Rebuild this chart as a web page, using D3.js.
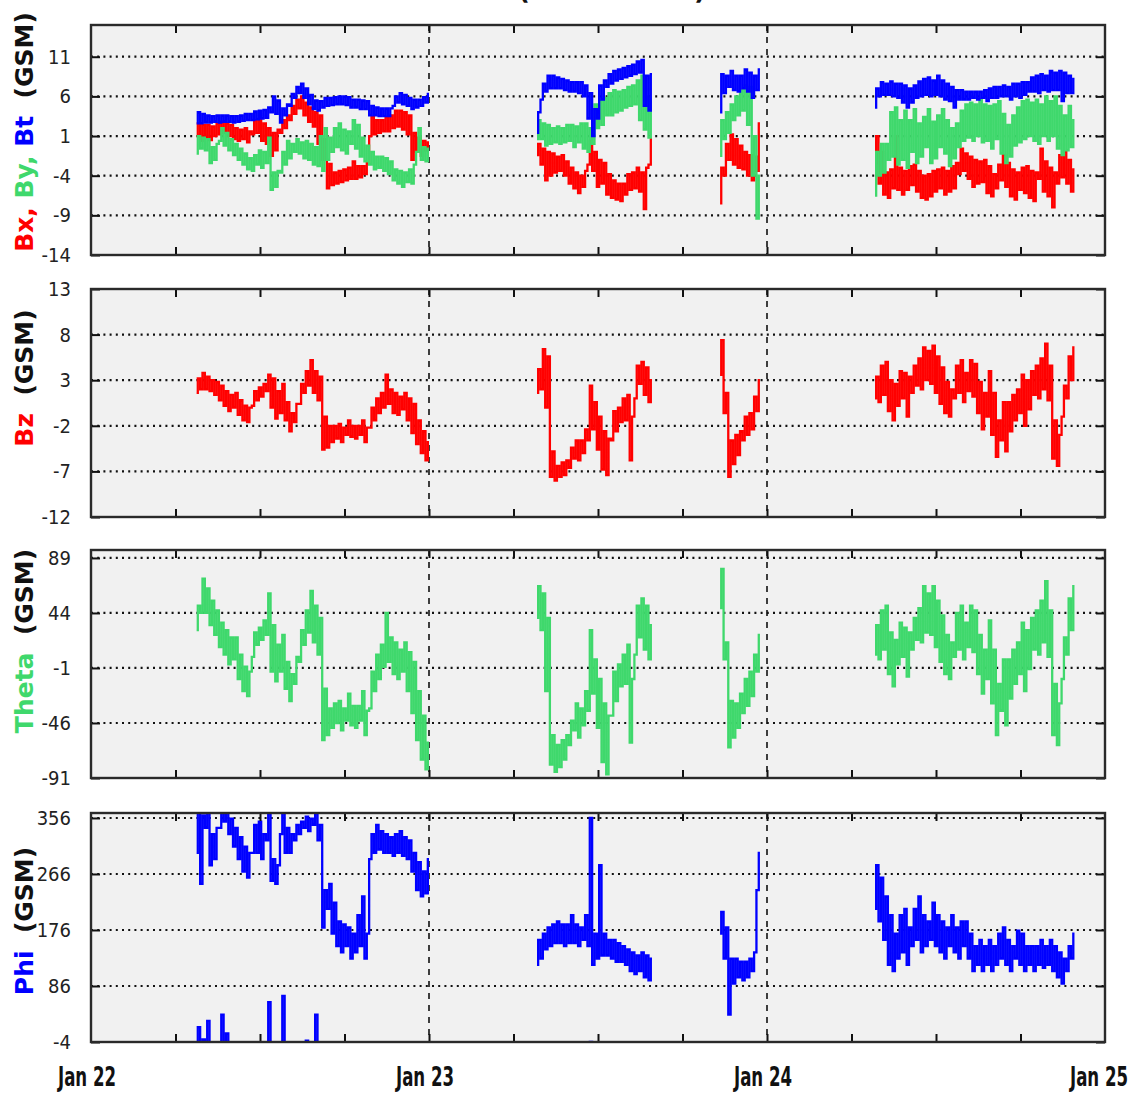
<!DOCTYPE html>
<html><head><meta charset="utf-8">
<script src="https://cdn.jsdelivr.net/npm/d3@7"></script>
<style>
html,body{margin:0;padding:0;background:#fff;}
svg{display:block;}
</style></head><body>
<svg id="chart" width="1132" height="1095"></svg>
<script>
// Hours since Jan 22 00:00 UT; the plot spans three days.
const dayLabels = ["Jan 22", "Jan 23", "Jan 24", "Jan 25"];
const dayHours = [0, 24, 48, 72];
const minorHours = [6, 12, 18, 24, 30, 36, 42, 48, 54, 60, 66];
// Start time of each continuous data stretch, 20-minute bins.
const segmentStarts = [7.5, 31.667, 44.667, 55.667];
const binHours = 1 / 3;

const bTicks = [-14, -9, -4, 1, 6, 11];
const bzTicks = [-12, -7, -2, 3, 8, 13];
const thetaTicks = [-91, -46, -1, 44, 89];
const phiTicks = [-4, 86, 176, 266, 356];

// Each bin: low, high of the 1-minute values inside it (nT or degrees).
const btSegments = [
 [2.6,4.0, 2.6,3.8, 2.7,3.6, 2.7,3.5, 2.8,3.6, 2.7,3.6, 2.8,3.6, 2.8,3.5, 2.7,3.5, 2.8,3.6,
  2.9,3.8, 3.0,3.8, 3.0,4.1, 3.1,4.2, 3.2,4.3, 3.3,4.6, 4.0,6.0, 3.8,5.5, 2.7,4.5, 3.6,5.0,
  4.8,6.3, 5.8,7.2, 6.4,7.6, 5.8,7.0, 5.0,6.2, 4.4,5.5, 4.2,5.4, 4.6,5.8, 4.8,5.8, 4.9,5.9,
  5.0,6.0, 5.0,6.0, 4.9,5.9, 4.6,5.6, 4.6,5.6, 4.4,5.5, 4.4,5.4, 3.6,4.8, 3.6,4.6, 3.5,4.5,
  3.5,4.5, 3.5,4.5, 4.8,6.0, 5.2,6.4, 5.0,6.2, 4.8,5.8, 4.4,5.6, 4.6,5.6, 4.8,5.9, 5.2,6.3],
 [1.4,4.0, 5.6,7.6, 6.6,8.6, 7.0,8.6, 7.0,8.4, 7.0,8.2, 6.8,8.0, 6.6,7.8, 6.6,7.8, 6.4,7.8,
  6.0,7.4, 3.2,6.4, 1.0,4.4, 3.2,7.4, 5.6,8.0, 7.2,8.8, 7.6,9.2, 8.0,9.4, 8.2,9.6, 8.4,9.8,
  8.6,10.0, 8.8,10.4, 9.0,10.6, 4.8,8.6, 4.2,8.8],
 [4.0,8.8, 6.4,8.6, 7.2,9.2, 6.8,8.6, 6.6,8.6, 7.0,9.4, 6.6,9.0, 5.8,8.6, 6.8,9.4],
 [4.6,7.0, 6.0,7.8, 6.2,7.6, 6.2,7.9, 6.0,7.6, 5.8,7.6, 5.2,7.4, 4.6,7.0, 5.2,7.4, 5.8,7.9,
  6.0,8.2, 6.2,8.4, 6.0,8.0, 6.2,8.6, 6.0,8.0, 5.6,7.6, 5.4,7.2, 4.6,6.8, 5.6,6.8, 5.6,6.6,
  5.6,6.6, 5.8,6.6, 5.6,6.6, 5.8,6.8, 5.4,7.0, 5.8,7.2, 5.8,7.2, 6.0,7.4, 6.0,7.2, 5.6,7.6,
  6.0,7.6, 5.8,7.8, 6.2,7.8, 6.6,8.4, 6.6,8.6, 6.4,8.8, 6.8,8.6, 6.6,9.2, 6.8,9.0, 6.8,9.2,
  5.4,9.0, 6.4,8.6, 6.4,8.2]
];

const bxSegments = [
 [1.0,2.6, 0.4,2.4, 0.8,2.4, 0.5,2.2, 1.0,2.6, 1.2,2.8, 1.4,2.6, 1.0,2.4, 0.6,2.0, 0.4,1.8,
  0.6,2.0, 0.2,1.6, 1.2,3.0, 1.4,3.2, 0.4,2.6, 0.0,2.0, -1.5,1.4, -0.8,1.8, 1.4,3.0, 2.0,3.6,
  3.0,4.8, 3.8,5.6, 4.5,6.0, 3.6,5.2, 2.8,4.6, 2.2,4.0, 0.0,3.6, -2.0,0.6, -5.6,-2.5, -5.2,-3.6,
  -5.0,-3.4, -4.8,-3.2, -4.6,-3.0, -4.4,-2.2, -4.4,-2.8, -4.2,-2.8, -3.8,-2.4, 1.0,3.4, 1.2,3.0, 1.4,3.0,
  1.6,3.4, 1.6,3.6, 2.0,4.2, 2.2,4.2, 1.8,4.0, 1.2,3.6, -2.0,1.4, -1.0,0.8, -1.5,0.4, -0.8,0.2],
 [-1.4,0.0, -2.6,-0.6, -4.6,-1.0, -4.0,-1.2, -3.6,-1.6, -3.4,-1.4, -4.0,-2.2, -5.0,-3.0, -5.6,-3.6, -6.2,-4.0,
  -5.4,-3.4, -2.6,0.4, -3.4,-1.0, -5.4,-2.0, -5.0,-2.4, -6.4,-3.8, -6.8,-4.6, -7.0,-5.0, -7.2,-5.0, -6.4,-3.8,
  -5.8,-3.6, -5.6,-3.0, -6.0,-3.6, -8.2,-3.0, -2.6,0.6],
 [-7.5,-3.0, -4.0,0.0, -2.0,1.2, -2.6,0.6, -3.0,-0.2, -3.2,-1.0, -4.0,-1.4, -4.6,-1.6, -3.4,2.6],
 [-2.4,1.0, -5.0,-1.0, -6.4,-3.6, -6.8,-3.2, -5.6,1.0, -5.8,-3.0, -6.4,-3.4, -5.8,-2.8, -5.2,-2.6, -6.0,-3.4,
  -6.8,-4.0, -7.0,-3.8, -6.6,-3.4, -6.0,-3.2, -5.6,-3.0, -6.4,-3.4, -6.0,-2.8, -5.6,-2.4, -3.8,-0.6, -3.4,-1.2,
  -4.4,-1.6, -5.4,-2.0, -5.0,-2.2, -4.8,-2.0, -6.2,-2.8, -6.6,-3.8, -5.6,-2.6, -4.6,-1.4, -5.4,-2.4, -6.6,-3.2,
  -7.0,-3.6, -5.8,-3.0, -6.2,-2.8, -6.8,-3.4, -7.2,-3.6, -4.4,-0.6, -6.0,-2.2, -6.6,-3.0, -8.0,-3.6, -5.0,-1.4,
  -4.2,-1.0, -5.0,-2.0, -6.0,-3.2]
];

const bySegments = [
 [-1.2,1.0, -0.6,0.8, -0.8,0.6, -2.4,-0.4, -2.0,0.0, 0.4,2.0, -0.2,1.4, -0.8,0.6, -1.4,0.0, -2.0,-0.6,
  -2.6,-1.2, -3.2,-1.8, -3.4,-1.4, -2.6,-0.8, -3.0,-1.0, -2.4,0.8, -5.8,-3.6, -5.4,-3.4, -3.6,-1.0, -2.6,0.4,
  -1.8,0.0, -1.0,0.6, -1.2,0.2, -1.8,0.4, -2.0,0.0, -2.6,-0.4, -2.8,1.0, -3.4,2.0, -2.0,0.8, -1.0,2.0,
  -0.4,2.6, -0.8,1.8, -1.2,1.6, 0.0,3.0, -0.6,2.4, -1.6,0.8, -2.2,-0.2, -2.6,-1.0, -3.2,-1.6, -3.0,-1.6,
  -3.4,-1.8, -3.8,-2.2, -4.6,-3.2, -5.0,-3.4, -5.4,-3.6, -4.8,-3.2, -5.0,-2.6, -1.0,2.0, -2.0,-0.4, -2.2,-0.6],
 [0.6,3.0, 0.6,2.6, -0.2,2.4, 0.0,2.0, 0.2,2.2, 0.0,2.0, 0.2,2.4, 0.4,2.4, -0.4,2.2, 0.2,2.6,
  -0.6,2.6, -1.0,2.0, 0.0,5.0, 2.0,5.4, 2.4,5.8, 3.6,6.4, 3.6,6.8, 4.0,6.6, 4.2,6.8, 4.6,7.2,
  4.8,7.4, 5.0,8.0, 3.0,8.6, 1.8,6.0, 0.8,5.6],
 [-1.5,3.0, 0.6,4.0, 1.4,5.0, 3.0,6.0, 3.6,6.8, 4.2,7.4, 2.4,7.2, -4.0,1.0, -9.4,-4.0],
 [-6.5,-1.0, -4.0,0.0, -3.6,0.0, -2.0,4.0, -1.6,4.6, -2.6,3.0, -2.0,4.2, -3.0,3.0, -1.0,4.4, -2.4,2.6,
  -1.6,3.4, -0.4,4.4, -2.4,2.8, -1.8,3.6, -0.4,4.4, -1.2,3.0, -2.8,2.0, -1.8,2.6, -0.4,4.2, 0.4,5.0,
  0.8,5.2, 0.4,5.0, 1.0,5.6, 0.2,5.0, 0.4,4.8, -0.6,5.0, 0.6,5.4, -1.2,3.8, -2.4,2.4, -1.6,3.6,
  -0.2,4.6, 0.2,5.4, 0.6,5.6, 1.0,5.2, 0.4,5.6, 0.0,5.0, 1.0,6.0, 0.4,5.4, 1.0,6.0, -0.6,4.8,
  -1.4,3.6, -0.8,4.8, -0.4,3.0]
];

const bzSegments = [
 [1.6,3.2, 2.0,3.8, 2.0,3.4, 1.8,3.0, 1.4,2.8, 0.8,2.4, 0.2,1.8, -0.4,1.4, 0.0,1.6, -0.8,0.8,
  -1.4,0.2, -1.6,0.0, 0.2,1.8, 0.8,2.2, 1.2,2.6, 1.8,3.6, 0.0,3.2, -1.2,1.8, -0.6,2.6, -1.4,0.6,
  -2.6,-0.6, -1.6,0.4, 0.4,2.6, 1.6,4.0, 2.4,5.2, 1.6,4.0, 0.8,3.4, -4.6,-1.0, -4.4,-2.0, -3.8,-2.0,
  -3.4,-1.8, -3.8,-2.2, -3.0,-1.4, -3.2,-2.0, -3.4,-2.0, -3.0,-1.4, -3.8,-2.2, -2.2,0.0, -1.4,1.0, -0.6,1.6,
  0.0,3.6, 0.4,2.0, -0.6,1.6, -0.8,1.2, -0.2,1.6, -1.4,1.0, -2.8,0.4, -4.0,-1.4, -5.0,-2.6, -5.8,-3.8],
 [1.6,4.2, 2.0,6.4, 0.0,5.6, -7.6,-4.8, -8.0,-6.4, -7.6,-6.0, -7.4,-5.8, -6.6,-4.4, -5.6,-3.6, -5.8,-3.6,
  -5.0,-2.4, -3.6,2.4, -2.4,0.6, -4.6,-1.0, -6.8,-2.6, -7.4,-3.4, -3.6,-0.4, -2.6,0.0, -1.6,1.0, -1.4,1.4,
  -5.8,-1.0, 1.0,4.6, 2.6,5.0, 1.4,4.4, 0.6,3.0],
 [3.6,7.4, -0.6,1.6, -7.6,-3.6, -6.2,-3.0, -5.2,-2.6, -3.6,-1.0, -3.0,-0.6, -2.4,1.2, -0.4,3.0],
 [1.0,3.4, 0.6,4.6, 1.4,5.0, -0.4,3.0, -1.4,2.6, 0.2,4.0, 1.0,3.8, -1.0,3.4, 1.6,4.6, 2.4,5.4,
  2.0,6.6, 3.0,6.2, 2.6,6.8, 1.6,5.6, 0.4,4.4, -0.6,2.8, -1.0,2.0, 1.0,4.6, 1.6,5.2, 0.6,3.8,
  1.8,5.2, 1.2,4.8, -0.6,2.8, -2.4,1.6, -1.0,4.0, -3.0,1.6, -5.4,-1.4, -3.6,0.6, -4.8,0.6, -2.6,1.4,
  -1.4,2.0, -0.6,3.6, -2.0,3.0, -0.2,4.0, 1.4,4.6, 1.0,5.4, 2.0,7.0, 0.8,4.6, -5.6,-1.4, -6.4,-3.0,
  -1.0,2.4, 1.0,5.6, 3.0,6.6]
];

const thetaSegments = [
 [30,50, 44,72, 44,64, 34,54, 26,46, 16,36, 10,30, 2,24, 6,24, -10,10,
  -20,0, -24,-4, 8,28, 18,32, 22,38, 26,60, -4,34, -12,18, -4,26, -18,4,
  -28,-6, -14,8, 4,30, 18,46, 28,62, 20,50, 10,40, -60,-18, -56,-34, -50,-30,
  -46,-28, -52,-34, -44,-22, -48,-32, -50,-32, -44,-20, -56,-36, -34,-4, -20,10, -10,18,
  0,44, 4,24, -6,20, -10,14, -4,20, -20,12, -38,4, -60,-20, -76,-40, -84,-62],
 [40,66, 30,60, -20,40, -80,-56, -86,-64, -82,-60, -76,-56, -64,-44, -52,-30, -58,-34,
  -48,-20, -36,30, -22,6, -50,-10, -78,-30, -88,-40, -40,-4, -28,2, -16,10, -14,18,
  -62,-10, 10,50, 24,56, 14,50, 6,34],
 [48,80, 6,20, -66,-28, -58,-30, -50,-22, -38,-10, -32,-4, -24,10, -4,26],
 [10,34, 6,46, 14,50, -6,28, -16,22, 2,36, 8,32, -8,28, 14,40, 22,48,
  20,66, 28,60, 26,66, 16,54, 4,42, -6,26, -10,20, 8,44, 14,50, 6,36,
  16,50, 12,46, -6,26, -22,14, -10,38, -30,14, -56,-14, -36,6, -48,6, -26,14,
  -14,20, -6,36, -20,30, -2,40, 14,46, 10,54, 20,70, 8,46, -56,-14, -64,-30,
  -10,24, 10,56, 30,66]
];

// Phi is kept unwrapped (values past 360 wrap to the bottom of the panel).
const phiSegments = [
 [300,380, 250,360, 340,390, 280,330, 290,340, 340,400, 350,370, 330,355, 310,340, 290,325,
  270,310, 260,300, 300,345, 300,350, 290,330, 320,420, 255,290, 250,280, 330,430, 300,340,
  300,330, 320,345, 330,350, 340,358, 335,355, 345,400, 320,345, 180,240, 210,250, 170,220,
  150,190, 140,185, 150,180, 130,170, 140,200, 150,230, 130,170, 290,330, 300,345, 305,335,
  300,330, 300,325, 295,330, 300,335, 295,325, 290,320, 270,300, 240,285, 230,270, 235,290],
 [120,160, 130,170, 145,180, 150,185, 155,190, 155,185, 150,185, 155,200, 155,185, 150,180,
  160,200, 150,356, 120,170, 130,280, 135,170, 135,160, 130,160, 125,155, 125,150, 120,145,
  110,140, 105,135, 110,140, 100,135, 95,130],
 [170,205, 130,180, 40,130, 90,130, 100,125, 95,125, 100,130, 110,140, 240,300],
 [210,280, 190,260, 160,230, 120,200, 110,170, 130,200, 140,210, 120,180, 150,210, 160,230,
  140,200, 150,190, 160,220, 150,200, 140,190, 130,180, 150,200, 140,180, 130,190, 150,190,
  130,170, 110,150, 120,160, 110,150, 120,160, 110,150, 120,170, 130,180, 120,160, 110,150,
  130,175, 120,170, 110,150, 120,150, 110,150, 120,160, 115,150, 120,160, 110,150, 100,140,
  90,130, 110,150, 130,170]
];

const RED = "#ff0000", GREEN = "#3fd86c", BLUE = "#0000ff";
const NARROW = "'Liberation Sans Narrow', 'DejaVu Sans Condensed', 'DejaVu Sans', sans-serif";

const svg = d3.select("#chart");
const left = 91, right = 1105;
const x = d3.scaleLinear().domain([0, 72]).range([left, right]);

const panels = [
  {top: 25, bottom: 255, domain: [-14, 15], ticks: bTicks,
   series: [[bxSegments, RED], [bySegments, GREEN], [btSegments, BLUE]],
   title: [["Bx,", RED], [" By,", GREEN], [" Bt", BLUE], ["  (GSM)", "#111"]], titleY: 132},
  {top: 289, bottom: 517, domain: [-12, 13], ticks: bzTicks,
   series: [[bzSegments, RED]],
   title: [["Bz", RED], ["  (GSM)", "#111"]], titleY: 378},
  {top: 550, bottom: 778, domain: [-91, 95.5], ticks: thetaTicks,
   series: [[thetaSegments, GREEN]],
   title: [["Theta", GREEN], ["  (GSM)", "#111"]], titleY: 641},
  {top: 813, bottom: 1042, domain: [-4, 364], ticks: phiTicks,
   series: [[phiSegments, BLUE]], wrap: 360,
   title: [["Phi", BLUE], ["  (GSM)", "#111"]], titleY: 921}
];

const defs = svg.append("defs");

// Low/high of each bin become alternating points half a bin apart, so the
// stepped line sweeps the full range of the minute data as vertical strokes.
function toSweep(flat, k) {
  const out = [];
  for (let i = 0; i < flat.length / 2; i++) {
    const t = segmentStarts[k] + i * binHours;
    out.push([t, flat[2 * i]]);
    out.push([t + binHours / 2, flat[2 * i + 1]]);
  }
  return out;
}

panels.forEach((p, idx) => {
  const y = d3.scaleLinear().domain(p.domain).range([p.bottom, p.top]);
  const g = svg.append("g");
  const w = right - left, h = p.bottom - p.top;

  g.append("rect").attr("x", left).attr("y", p.top).attr("width", w).attr("height", h)
    .attr("fill", "#f1f1f1");

  // dotted horizontal grid at every labelled value
  g.append("g").selectAll("line").data(p.ticks.filter(v => v > p.domain[0] && v < p.domain[1]))
    .join("line")
    .attr("x1", left).attr("x2", right)
    .attr("y1", d => y(d)).attr("y2", d => y(d))
    .attr("stroke", "#111").attr("stroke-width", 2.2).attr("stroke-dasharray", "2,4.2");

  // dashed day boundaries
  g.append("g").selectAll("line").data(dayHours.slice(1, 3)).join("line")
    .attr("x1", d => x(d)).attr("x2", d => x(d))
    .attr("y1", p.top).attr("y2", p.bottom)
    .attr("stroke", "#111").attr("stroke-width", 1.6).attr("stroke-dasharray", "6,6");

  const clipId = "clip" + idx;
  defs.append("clipPath").attr("id", clipId).append("rect")
    .attr("x", left).attr("y", p.top).attr("width", w).attr("height", h);
  const dataG = g.append("g").attr("clip-path", `url(#${clipId})`);

  const shifts = p.wrap ? [0, -p.wrap] : [0];
  p.series.forEach(([segs, color]) => {
    segs.forEach((flat, k) => {
      const pts = toSweep(flat, k);
      shifts.forEach(s => {
        const line = d3.line()
          .x(d => x(d[0]))
          .y(d => y(d[1] + s))
          .curve(d3.curveStep);
        dataG.append("path").attr("d", line(pts))
          .attr("fill", "none").attr("stroke", color).attr("stroke-width", 2.3);
      });
    });
  });

  // inward ticks on all four sides
  const tickStyle = sel => {
    sel.select(".domain").remove();
    sel.selectAll(".tick line").attr("stroke", "#111").attr("stroke-width", 2);
  };
  g.append("g").attr("transform", `translate(0,${p.bottom})`)
    .call(d3.axisBottom(x).tickValues(minorHours).tickSizeInner(-8).tickFormat(""))
    .call(tickStyle);
  g.append("g").attr("transform", `translate(0,${p.top})`)
    .call(d3.axisTop(x).tickValues(minorHours).tickSizeInner(-8).tickFormat(""))
    .call(tickStyle);
  g.append("g").attr("transform", `translate(${right},0)`)
    .call(d3.axisRight(y).tickValues(p.ticks).tickSizeInner(-9).tickFormat(""))
    .call(tickStyle);
  const ya = g.append("g").attr("transform", `translate(${left},0)`)
    .call(d3.axisLeft(y).tickValues(p.ticks).tickSizeInner(-9).tickPadding(20).tickFormat(d => String(d)))
    .call(tickStyle);
  ya.selectAll(".tick text")
    .attr("font-family", NARROW).attr("font-stretch", "condensed")
    .attr("font-size", 20).attr("fill", "#222");

  g.append("rect").attr("x", left).attr("y", p.top).attr("width", w).attr("height", h)
    .attr("fill", "none").attr("stroke", "#2a2a2a").attr("stroke-width", 2.4);

  const t = svg.append("text")
    .attr("transform", `translate(33,${p.titleY}) rotate(-90)`)
    .attr("text-anchor", "middle")
    .attr("font-family", "'DejaVu Sans', sans-serif")
    .attr("font-weight", "bold").attr("font-size", 25);
  p.title.forEach(([s, c]) => t.append("tspan").attr("fill", c).attr("xml:space", "preserve").text(s));
});

// day labels under the last panel
svg.append("g").selectAll("text").data(dayLabels).join("text")
  .attr("x", (d, i) => Math.min(x(dayHours[i]) - 4, 1099))
  .attr("y", 1086)
  .attr("text-anchor", "middle")
  .attr("font-family", NARROW).attr("font-stretch", "condensed")
  .attr("font-weight", "bold").attr("font-size", 26).attr("fill", "#111")
  .attr("textLength", 58).attr("lengthAdjust", "spacingAndGlyphs")
  .text(d => d);

// plot title (sits above the window top)
svg.append("text").attr("x", 612).attr("y", -1)
  .attr("text-anchor", "middle")
  .attr("font-family", "'DejaVu Sans', sans-serif").attr("font-weight", "bold")
  .attr("font-size", 26).attr("fill", "#111")
  .attr("textLength", 188).attr("lengthAdjust", "spacing")
  .text("(1 MIN AVE)");
</script>
</body></html>
